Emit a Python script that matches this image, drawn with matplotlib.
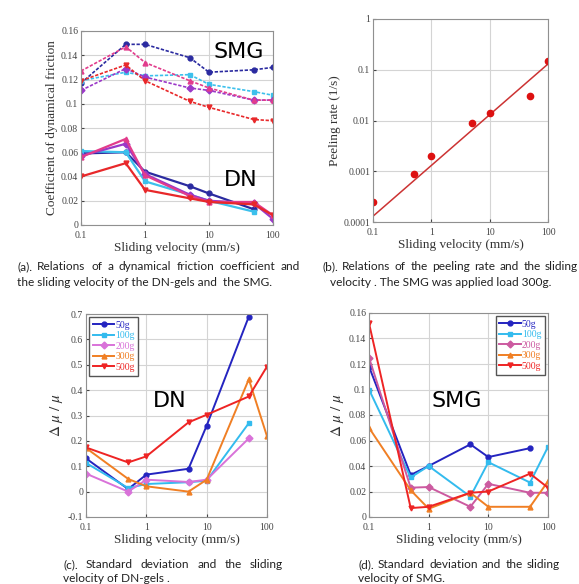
import numpy as np
import matplotlib
matplotlib.use("Agg")
import matplotlib.pyplot as plt

plt.rcParams['font.family'] = ['Liberation Serif', 'DejaVu Serif']
plt.rcParams['mathtext.fontset'] = 'stix'

vel = [0.1, 0.5, 1, 5, 10, 50, 100]
loads = ["50g", "100g", "200g", "300g", "500g"]
markers = ['o', 's', 'D', '^', 'v']

# (a) dynamical friction coefficient, SMG (dashed) and DN (solid)
smg_a = [
    [0.117, 0.149, 0.149, 0.138, 0.126, 0.128, 0.130],
    [0.119, 0.126, 0.123, 0.124, 0.116, 0.110, 0.107],
    [0.111, 0.129, 0.122, 0.113, 0.111, 0.103, 0.103],
    [0.127, 0.147, 0.134, 0.119, 0.113, 0.103, 0.103],
    [0.119, 0.132, 0.119, 0.102, 0.097, 0.087, 0.086],
]
dn_a = [
    [0.059, 0.060, 0.044, 0.032, 0.026, 0.013],
    [0.061, 0.060, 0.036, 0.025, 0.020, 0.011],
    [0.057, 0.067, 0.042, 0.025, 0.020, 0.018, 0.005],
    [0.056, 0.071, 0.041, 0.024, 0.019, 0.019, 0.008],
    [0.040, 0.051, 0.029, 0.022, 0.019, 0.017, 0.008],
]
cols_a = ['#2b2ba0', '#3cc0ec', '#9b38c8', '#e23c8c', '#e8282a']

# (b) peeling rate
peel = [0.00025, 0.0009, 0.002, 0.009, 0.014, 0.03, 0.15]
fit_x = [0.1, 100]
fit_y = [0.00013, 0.13]

# (c) DN standard deviation
dn_sd = [
    [0.131, 0.010, 0.067, 0.090, 0.260, 0.690],
    [0.113, 0.014, 0.030, 0.037, 0.043, 0.270],
    [0.071, 0.000, 0.047, 0.038, 0.047, 0.210],
    [0.172, 0.050, 0.021, 0.000, 0.047, 0.443, 0.218],
    [0.174, 0.115, 0.139, 0.273, 0.303, 0.375, 0.493],
]
# (d) SMG standard deviation
smg_sd = [
    [0.118, 0.033, 0.040, 0.057, 0.047, 0.054],
    [0.100, 0.031, 0.040, 0.016, 0.043, 0.027, 0.055],
    [0.125, 0.023, 0.0235, 0.008, 0.026, 0.019, 0.019],
    [0.070, 0.021, 0.0065, 0.019, 0.008, 0.008, 0.028],
    [0.152, 0.007, 0.008, 0.019, 0.020, 0.034, 0.023],
]
cols_c = ['#2424c0', '#33bbee', '#d972d9', '#f07f24', '#ee2424']
cols_d = ['#2424c0', '#33bbee', '#cc5aa0', '#f07f24', '#ee2424']

W, H = 579, 584
fig = plt.figure(figsize=(W / 100, H / 100), dpi=100)


def box(l, t, r, b):
    return fig.add_axes([l / W, 1 - b / H, (r - l) / W, (b - t) / H])


def style(ax):
    ax.set_xscale('log')
    ax.set_xlim(0.1, 100)
    ax.set_xticks([0.1, 1, 10, 100])
    ax.set_xticklabels(['0.1', '1', '10', '100'])
    ax.minorticks_off()
    ax.grid(True, color='#d4d4d4', lw=0.8)
    ax.set_axisbelow(True)
    ax.tick_params(direction='in', length=2, labelsize=7, colors='#444444', pad=2)
    ax.tick_params(axis='x', pad=4)
    for s in ax.spines.values():
        s.set_color('#909090')
        s.set_linewidth(0.8)
    ax.set_xlabel('Sliding velocity (mm/s)', fontsize=9.5, color='#333333', labelpad=2)


# (a)
ax = box(81, 31, 273, 225)
style(ax)
for i in range(5):
    ax.plot(vel[:len(smg_a[i])], smg_a[i], ls=(0, (2, 1)), lw=1.2, color=cols_a[i],
            marker=markers[i], ms=3.5)
    ax.plot(vel[:len(dn_a[i])], dn_a[i], ls='-', lw=1.6, color=cols_a[i],
            marker=markers[i], ms=3.5)
ax.set_ylim(0, 0.16)
ax.set_yticks(np.arange(0, 0.161, 0.02))
ax.set_yticklabels(['0', '0.02', '0.04', '0.06', '0.08', '0.1', '0.12', '0.14', '0.16'])
ax.set_ylabel('Coefficient of dynamical friction', fontsize=9.5, color='#333333', labelpad=2)
ax.text(0.82, 0.89, 'SMG', transform=ax.transAxes, fontsize=16, family='DejaVu Sans',
        ha='center', va='center')
ax.text(0.83, 0.23, 'DN', transform=ax.transAxes, fontsize=16, family='DejaVu Sans',
        ha='center', va='center')

# (b)
ax = box(373, 19, 548, 222)
style(ax)
ax.set_yscale('log')
ax.set_ylim(0.0001, 1)
ax.set_yticks([0.0001, 0.001, 0.01, 0.1, 1])
ax.set_yticklabels(['0.0001', '0.001', '0.01', '0.1', '1'])
ax.minorticks_off()
ax.plot(fit_x, fit_y, color='#cc3333', lw=1.1)
ax.plot(vel, peel, 'o', color='#dd1111', ms=4.5)
ax.set_ylabel('Peeling rate (1/s)', fontsize=9.5, color='#333333', labelpad=2)

# (c)
ax = box(86, 314, 267, 517)
style(ax)
for i in range(5):
    ax.plot(vel[:len(dn_sd[i])], dn_sd[i], lw=1.4, color=cols_c[i],
            marker=markers[i], ms=3.5, label=loads[i])
ax.set_ylim(-0.1, 0.7)
ax.set_yticks(np.arange(-0.1, 0.71, 0.1))
ax.set_yticklabels(['-0.1', '0', '0.1', '0.2', '0.3', '0.4', '0.5', '0.6', '0.7'])
ax.set_ylabel(r'$\Delta\ \mu\ /\ \mu$', fontsize=11, color='#333333', labelpad=2)
ax.text(0.46, 0.57, 'DN', transform=ax.transAxes, fontsize=16, family='DejaVu Sans',
        ha='center', va='center')
leg = ax.legend(loc='upper left', fontsize=7, handlelength=2.2, handletextpad=0.1,
                labelspacing=0.15, borderpad=0.4, fancybox=False, framealpha=1,
                edgecolor='#555555', borderaxespad=0.3)
for t, c in zip(leg.get_texts(), cols_c):
    t.set_color(c)

# (d)
ax = box(369, 313, 548, 517)
style(ax)
for i in range(5):
    ax.plot(vel[:len(smg_sd[i])], smg_sd[i], lw=1.4, color=cols_d[i],
            marker=markers[i], ms=3.5, label=loads[i])
ax.set_ylim(0, 0.16)
ax.set_yticks(np.arange(0, 0.161, 0.02))
ax.set_yticklabels(['0', '0.02', '0.04', '0.06', '0.08', '0.1', '0.12', '0.14', '0.16'])
ax.set_ylabel(r'$\Delta\ \mu\ /\ \mu$', fontsize=11, color='#333333', labelpad=2)
ax.text(0.49, 0.57, 'SMG', transform=ax.transAxes, fontsize=16, family='DejaVu Sans',
        ha='center', va='center')
leg = ax.legend(loc='upper right', fontsize=7, handlelength=2.2, handletextpad=0.1,
                labelspacing=0.15, borderpad=0.4, fancybox=False, framealpha=1,
                edgecolor='#555555', borderaxespad=0.3)
for t, c in zip(leg.get_texts(), cols_d):
    t.set_color(c)

# captions
cap_font = dict(family='Lato', fontsize=8.6, color='#222222', va='center')
fig.canvas.draw()
rend = fig.canvas.get_renderer()


def justified(text, x0, x1, y):
    words = text.split()
    objs = [fig.text(x0 / W, 1 - y / H, w, **cap_font) for w in words]
    widths = [o.get_window_extent(rend).width for o in objs]
    gap = (x1 - x0 - sum(widths)) / (len(words) - 1)
    x = x0
    for o, w in zip(objs, widths):
        o.set_x(x / W)
        x += w + gap


def plain(text, x0, y):
    fig.text(x0 / W, 1 - y / H, text, **cap_font)


justified('(a). Relations of a dynamical friction coefficient and', 17, 300, 267)
plain('the sliding velocity of the DN-gels and  the SMG.', 17, 283)
justified('(b). Relations of the peeling rate and the sliding', 322, 578, 267)
plain('velocity . The SMG was applied load 300g.', 330, 283)
justified('(c). Standard deviation and the sliding', 63, 283, 565)
plain('velocity of DN-gels .', 63, 579)
justified('(d). Standard deviation and the sliding', 358, 560, 565)
plain('velocity of SMG.', 358, 579)

fig.savefig('out.png', dpi=100)
